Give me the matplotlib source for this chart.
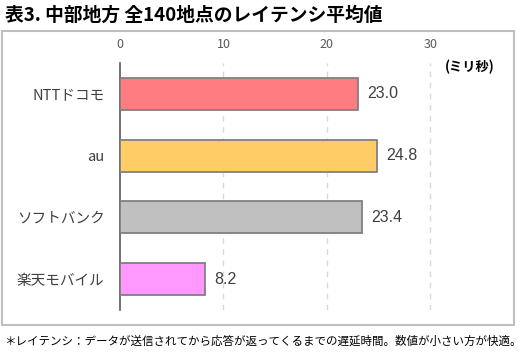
import matplotlib
matplotlib.use("Agg")
import matplotlib.pyplot as plt
from matplotlib.patches import Rectangle

plt.rcParams['font.family'] = ['Noto Sans CJK JP', 'DejaVu Sans']

categories = ["NTTドコモ", "au", "ソフトバンク", "楽天モバイル"]
values = [23.0, 24.8, 23.4, 8.2]
colors = ["#FF7C80", "#FFCC66", "#C0C0C0", "#FF99FF"]
xticks = [0, 10, 20, 30]

W, H = 522, 354
fig = plt.figure(figsize=(W/100, H/100), dpi=100)

# outer frame
fig.patches.append(Rectangle((1.5/W, 1-325/H), 512/W, 294/H, transform=fig.transFigure,
                             fill=False, edgecolor="#BFBFBF", linewidth=1.5))

ax = fig.add_axes([120/W, 1-310/H, 362/W, 247/H])
y = list(range(len(categories)))
ax.barh(y, values, height=0.52, color=colors, edgecolor="#808080", linewidth=1.3, zorder=3)
ax.set_ylim(3.5, -0.5)
ax.set_xlim(0, 35)
ax.set_xticks(xticks)
ax.xaxis.tick_top()
ax.tick_params(axis='x', length=0, pad=9, labelsize=9, labelcolor="#595959")
ax.set_yticks(y)
ax.set_yticklabels(categories, fontsize=10.5, color="#404040")
ax.tick_params(axis='y', length=0, pad=11)
for s in ['top', 'right', 'bottom']:
    ax.spines[s].set_visible(False)
ax.spines['left'].set_color("#595959")
ax.spines['left'].set_linewidth(1.2)
for t in xticks[1:]:
    ax.axvline(t, color="#D9D9D9", linestyle=(0, (4, 4)), linewidth=1, zorder=1)

for yi, v in zip(y, values):
    ax.annotate(f"{v:.1f}", (v, yi), xytext=(7, 0), textcoords="offset points",
                va="center", ha="left", fontsize=11.5, color="#404040",
                family=['Liberation Sans', 'DejaVu Sans'])

fig.text(445/W, 1-67/H, "(ミリ秒)", fontsize=9.5, fontweight="bold", va="center", ha="left", color="#000000")
fig.text(5/W, 1-15/H, "表3. 中部地方 全140地点のレイテンシ平均値", fontsize=13.5, fontweight="bold",
         va="center", ha="left", color="#000000")
fig.text(4/W, 1-341/H, "＊レイテンシ：データが送信されてから応答が返ってくるまでの遅延時間。数値が小さい方が快適。",
         fontsize=8.3, va="center", ha="left", color="#000000")

fig.savefig("out.png", dpi=100)
